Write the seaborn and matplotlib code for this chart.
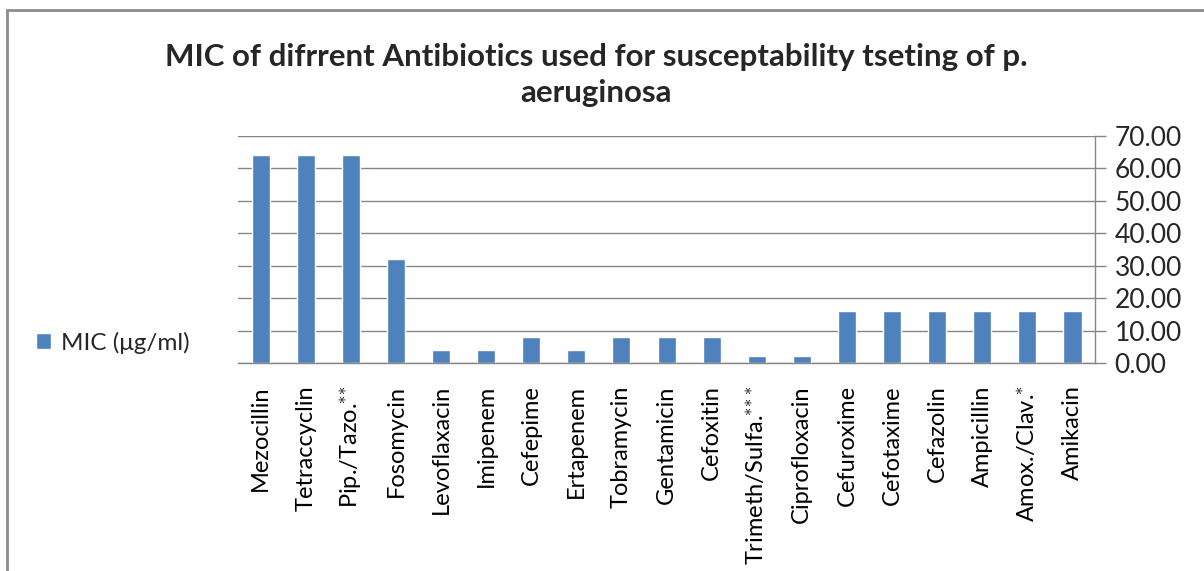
import seaborn as sns
import pandas as pd
import matplotlib.pyplot as plt
from matplotlib.patches import Rectangle
from matplotlib.ticker import FixedLocator, FormatStrFormatter

antibiotics = ["Mezocillin", "Tetraccyclin", r"Pip./Tazo.$^{\ast\!\ast}$", "Fosomycin",
               "Levoflaxacin", "Imipenem", "Cefepime", "Ertapenem", "Tobramycin",
               "Gentamicin", "Cefoxitin", r"Trimeth/Sulfa.$^{\ast\!\ast\!\ast}$", "Ciprofloxacin",
               "Cefuroxime", "Cefotaxime", "Cefazolin", "Ampicillin",
               r"Amox./Clav.$^{\ast}$", "Amikacin"]
mic = [64, 64, 64, 32, 4, 4, 8, 4, 8, 8, 8, 2, 2, 16, 16, 16, 16, 16, 16]
series_name = "MIC (μg/ml)"
title = "MIC of difrrent Antibiotics used for susceptability tseting of p.\naeruginosa"

df = pd.DataFrame({"antibiotic": antibiotics, "mic": mic})

sns.set_style("white")
plt.rcParams['font.family'] = ['Lato', 'DejaVu Sans']
plt.rcParams['mathtext.fontset'] = 'custom'
plt.rcParams['mathtext.rm'] = 'Lato'

grid_col = "#868686"
fig = plt.figure(figsize=(12.04, 5.71), dpi=100)
ax = fig.add_axes([0.1977, 0.3643, 0.7118, 0.3975])

sns.barplot(data=df, x="antibiotic", y="mic", color="#4F81BD", width=0.4,
            saturation=1, ax=ax, label=series_name)
if ax.get_legend() is not None:
    ax.get_legend().remove()

ax.set_ylim(0, 70)
ax.set_xlim(-0.5, len(antibiotics) - 0.5)
ax.yaxis.tick_right()
ax.set_yticks(range(0, 71, 10))
ax.yaxis.set_major_formatter(FormatStrFormatter("%.2f"))
ax.yaxis.grid(True, color=grid_col, linewidth=1)
ax.set_axisbelow(True)
ax.set_xlabel("")
ax.set_ylabel("")

ax.xaxis.set_minor_locator(FixedLocator([i - 0.5 for i in range(len(antibiotics) + 1)]))
ax.tick_params(axis="x", which="major", length=0, pad=16, labelsize=17, rotation=90,
               colors="black")
ax.tick_params(axis="x", which="minor", length=8, color=grid_col, width=1, direction="out")
ax.tick_params(axis="y", length=8, color=grid_col, width=1, direction="out",
               labelsize=19, pad=6)
for lbl in ax.get_xticklabels():
    lbl.set_verticalalignment("top")

for side in ["top", "left"]:
    ax.spines[side].set_visible(False)
for side in ["bottom", "right"]:
    ax.spines[side].set_color(grid_col)
    ax.spines[side].set_linewidth(1)

fig.text(0.495, 0.925, title, ha="center", va="top", fontsize=22.5, fontweight="bold",
         linespacing=1.35)

handles, labels = ax.get_legend_handles_labels()
fig.legend(handles[:1], labels[:1], loc="center left", bbox_to_anchor=(0.012, 0.40),
           frameon=False, fontsize=17.5, handlelength=0.6, handleheight=0.6,
           handletextpad=0.4)

fig.add_artist(Rectangle((7 / 1204, -0.05), 1.1, 1 - 10 / 571 + 0.05,
                         transform=fig.transFigure, fill=False,
                         edgecolor="#8c8c8c", linewidth=2))

fig.savefig("out.png", dpi=100)
